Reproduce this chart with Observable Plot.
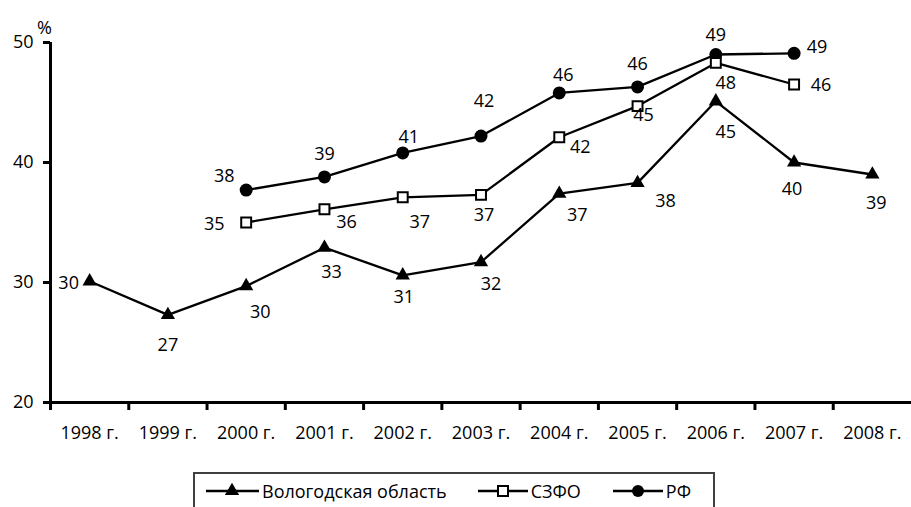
<!DOCTYPE html>
<html>
<head>
<meta charset="utf-8">
<script src="https://cdn.jsdelivr.net/npm/d3@7"></script>
<script src="https://cdn.jsdelivr.net/npm/@observablehq/plot@0.6"></script>
<style>
  html, body { margin: 0; padding: 0; background: #fff; }
  body { width: 911px; height: 507px; overflow: hidden; position: relative; font-family: "Open Sans", sans-serif; }
  #chart svg { display: block; }
  #legend {
    position: absolute; left: 193px; top: 472px; width: 522px; height: 60px;
    border: 2px solid #404040; box-sizing: border-box; background: #fff;
    display: flex; align-items: flex-start; padding-left: 11px; padding-top: 5px;
    font-size: 18px; color: #000;
  }
  .item { display: flex; align-items: center; height: 24px; }
  .item svg { display: block; }
  .item span { margin-left: 3px; white-space: nowrap; }
</style>
</head>
<body>
<div id="chart"></div>
<div id="legend"></div>
<script>
// ---- data ----
const years = ["1998 г.", "1999 г.", "2000 г.", "2001 г.", "2002 г.", "2003 г.", "2004 г.", "2005 г.", "2006 г.", "2007 г.", "2008 г."];
const yTicks = [20, 30, 40, 50];

const vologdaName = "Вологодская область";
const vologdaYears = ["1998 г.", "1999 г.", "2000 г.", "2001 г.", "2002 г.", "2003 г.", "2004 г.", "2005 г.", "2006 г.", "2007 г.", "2008 г."];
const vologdaValues = [30.1, 27.3, 29.7, 32.9, 30.6, 31.7, 37.4, 38.3, 45.1, 40.0, 39.0];
const vologdaLabels = ["30", "27", "30", "33", "31", "32", "37", "38", "45", "40", "39"];

const szfoName = "СЗФО";
const szfoYears = ["2000 г.", "2001 г.", "2002 г.", "2003 г.", "2004 г.", "2005 г.", "2006 г.", "2007 г."];
const szfoValues = [35.0, 36.1, 37.1, 37.3, 42.1, 44.7, 48.3, 46.5];
const szfoLabels = ["35", "36", "37", "37", "42", "45", "48", "46"];

const rfName = "РФ";
const rfYears = ["2000 г.", "2001 г.", "2002 г.", "2003 г.", "2004 г.", "2005 г.", "2006 г.", "2007 г."];
const rfValues = [37.7, 38.8, 40.8, 42.2, 45.8, 46.3, 49.0, 49.1];
const rfLabels = ["38", "39", "41", "42", "46", "46", "49", "49"];

// label placement (pixel offsets from the point), style only
const vologdaLabelOffsets = [[-21, 2], [0, 30], [14, 26], [7, 25], [1, 22], [10, 22], [18, 22], [28, 18], [10, 31], [-2, 27], [4, 29]];
const szfoLabelOffsets = [[-32, 2], [22, 13], [17, 25], [3, 20], [21, 10], [6, 9], [10, 20], [27, 1]];
const rfLabelOffsets = [[-22, -14], [0, -23], [6, -16], [3, -35], [4, -18], [0, -23], [0, -19], [23, -6]];

// ---- build rows ----
function rows(name, ys, vals, labels, offs) {
  return ys.map((yr, i) => ({
    series: name, x: years.indexOf(yr) + 0.5, value: vals[i], label: labels[i],
    dx: offs[i][0], dy: offs[i][1]
  }));
}
const vologda = rows(vologdaName, vologdaYears, vologdaValues, vologdaLabels, vologdaLabelOffsets);
const szfo = rows(szfoName, szfoYears, szfoValues, szfoLabels, szfoLabelOffsets);
const rf = rows(rfName, rfYears, rfValues, rfLabels, rfLabelOffsets);
const all = [...vologda, ...szfo, ...rf];

const FS = 18;
const labelMarks = all.map(d => Plot.text([d], {
  x: "x", y: "value", text: "label", dx: d.dx, dy: d.dy, fill: "black", fontSize: FS
}));

const chart = Plot.plot({
  width: 911,
  height: 465,
  marginLeft: 50,
  marginRight: 0,
  marginTop: 42,
  marginBottom: 63,
  style: { fontFamily: "'Open Sans', sans-serif", fontSize: FS + "px", color: "black", background: "white" },
  x: { type: "linear", domain: [0, years.length], label: null },
  y: { domain: [20, 50], label: null },
  marks: [
    Plot.ruleY([20], { stroke: "black", strokeWidth: 3 }),
    Plot.ruleX([0], { y1: 20, y2: 50, stroke: "black", strokeWidth: 3 }),
    Plot.axisX({ ticks: d3.range(0, years.length), tickSize: 8, strokeWidth: 3, tickFormat: () => "" }),
    Plot.axisX({ ticks: years.map((_, i) => i + 0.5), tickSize: 0, tickPadding: 24, tickFormat: v => years[Math.floor(v)], fontSize: FS }),
    Plot.axisY({ ticks: yTicks, tickSize: 7, tickPadding: 10, strokeWidth: 3, fontSize: FS }),
    Plot.text(["%"], { frameAnchor: "top-left", dx: -6, dy: -21, textAnchor: "middle", fontSize: FS }),
    Plot.line(all, { x: "x", y: "value", z: "series", stroke: "black", strokeWidth: 2.3 }),
    Plot.dot(vologda, { x: "x", y: "value", symbol: "triangle", r: 5.3, fill: "black", stroke: "none" }),
    Plot.dot(rf, { x: "x", y: "value", symbol: "circle", r: 6.5, fill: "black", stroke: "none" }),
    Plot.dot(szfo, { x: "x", y: "value", symbol: "square", r: 5.6, fill: "white", stroke: "black", strokeWidth: 2 }),
    ...labelMarks
  ]
});
document.getElementById("chart").appendChild(chart);

// ---- legend ----
const legendItems = [
  { name: vologdaName, symbol: "triangle", gapAfter: 31 },
  { name: szfoName, symbol: "square", gapAfter: 32 },
  { name: rfName, symbol: "circle", gapAfter: 0 }
];
const legend = document.getElementById("legend");
legendItems.forEach(it => {
  const div = document.createElement("div");
  div.className = "item";
  div.style.marginRight = it.gapAfter + "px";
  let sym = "";
  if (it.symbol === "triangle") sym = `<path d="${d3.symbol(d3.symbolTriangle, Math.PI * 5.3 * 5.3)()}" transform="translate(26,12)" fill="black"/>`;
  if (it.symbol === "square") sym = `<rect x="20" y="7" width="10" height="10" fill="white" stroke="black" stroke-width="2"/>`;
  if (it.symbol === "circle") sym = `<circle cx="25" cy="12" r="6" fill="black"/>`;
  const w = it.symbol === "triangle" ? 53 : 50;
  div.innerHTML = `<svg width="${w}" height="24"><line x1="0" x2="${w}" y1="12" y2="12" stroke="black" stroke-width="2.3"/>${sym}</svg><span>${it.name}</span>`;
  legend.appendChild(div);
});
</script>
</body>
</html>
